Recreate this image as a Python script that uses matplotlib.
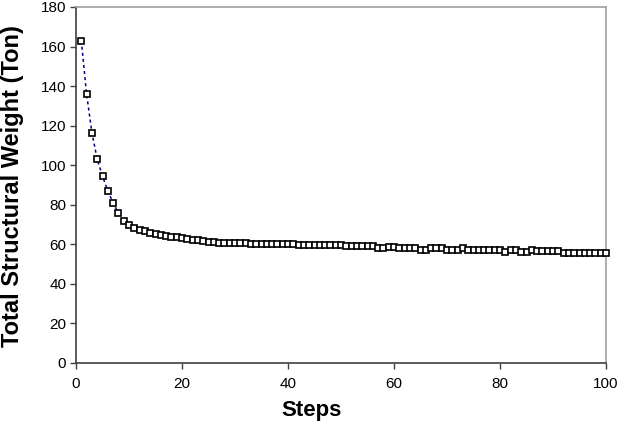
import matplotlib
matplotlib.use("Agg")
import matplotlib.pyplot as plt

steps = list(range(1, 101))
weight = [163, 136, 116.5, 103, 94.5, 87, 81, 75.8, 71.8, 69.8,
          68.3, 67.2, 66.5, 65.8, 65.1, 64.6, 64.1, 63.8, 63.6, 63.0,
          62.7, 62.1, 62.0, 61.9, 61.0, 61.0, 60.9, 60.9, 60.9, 60.9,
          60.8, 60.8, 60.4, 60.3, 60.3, 60.3, 60.3, 60.3, 60.2, 60.2,
          60.2, 59.6, 59.6, 59.6, 59.6, 59.6, 59.6, 59.6, 59.6, 59.6,
          59.0, 59.0, 59.0, 59.0, 59.0, 59.0, 58.1, 58.1, 58.9, 58.9,
          58.1, 58.1, 58.1, 58.1, 57.3, 57.3, 58.1, 58.1, 58.1, 57.3,
          57.3, 57.3, 58.1, 57.0, 57.0, 57.0, 57.0, 57.0, 57.0, 57.0,
          56.2, 57.2, 57.2, 56.3, 56.3, 57.2, 56.4, 56.4, 56.4, 56.4,
          56.4, 55.7, 55.7, 55.7, 55.7, 55.7, 55.7, 55.7, 55.7, 55.7]

xticks = [0, 20, 40, 60, 80, 100]
yticks = [0, 20, 40, 60, 80, 100, 120, 140, 160, 180]

plt.rcParams['font.family'] = ['Liberation Sans', 'DejaVu Sans']

fig = plt.figure(figsize=(6.19, 4.22), dpi=100)
ax = fig.add_axes([76/619, 1-363/422, 530/619, 356/422])

ax.plot(steps, weight, color='#000080', linestyle=(0, (2, 2)), linewidth=1.1,
        marker='s', markersize=4.5, markerfacecolor='white',
        markeredgecolor='black', markeredgewidth=1.2, zorder=3, clip_on=False)

ax.set_xlim(0, 100)
ax.set_ylim(0, 180)
ax.set_xticks(xticks)
ax.set_yticks(yticks)
ax.tick_params(axis='both', direction='out', length=4, width=1,
               color='#404040', labelsize=11, labelcolor='black', pad=3)
ax.tick_params(axis='x', pad=6)

for s in ['left', 'bottom']:
    ax.spines[s].set_color('#404040')
    ax.spines[s].set_linewidth(1.2)
for s in ['top', 'right']:
    ax.spines[s].set_color('#a0a0a0')
    ax.spines[s].set_linewidth(1.2)

fig.text(12.5/619, 1-186.5/422, 'Total Structural Weight (Ton)', rotation=90,
         ha='center', va='center', fontsize=17, fontweight='bold')
fig.text(312/619, 0.003, 'Steps', ha='center', va='bottom',
         fontsize=16, fontweight='bold')

fig.savefig('out.png', dpi=100)
